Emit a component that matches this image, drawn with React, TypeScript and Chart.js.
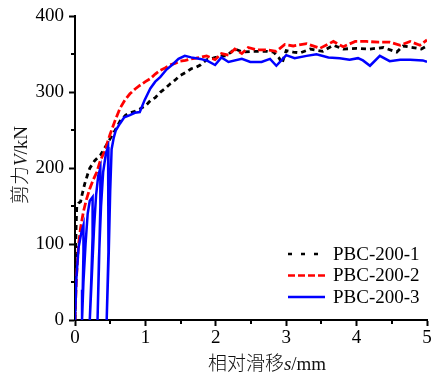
import React, { useEffect, useRef } from "react";
import { Chart, registerables } from "chart.js";

Chart.register(...registerables);

// PBC-200-1 (black, dotted/dashed)
const sBlack = [0, 0.005, 0.015, 0.025, 0.05, 0.08, 0.1, 0.14, 0.18, 0.21, 0.28, 0.36, 0.43, 0.5, 0.57, 0.64, 0.72, 0.78, 0.85, 0.92, 1.0, 1.07, 1.14, 1.21, 1.28, 1.35, 1.42, 1.49, 1.57, 1.65, 1.72, 1.78, 1.87, 1.96, 2.08, 2.15, 2.27, 2.39, 2.53, 2.72, 2.82, 2.9, 2.94, 3.0, 3.1, 3.2, 3.34, 3.52, 3.67, 3.81, 4.0, 4.19, 4.38, 4.57, 4.66, 4.8, 4.92, 5.0];
const vBlack = [0, 60, 120, 150, 154, 156, 165, 180, 192, 200, 210, 217, 228, 239, 250, 262, 270, 273, 275, 278, 282, 289, 293, 300, 305, 311, 316, 322, 326, 331, 333, 336, 343, 345, 348, 348, 357, 353, 354, 354, 353, 345, 338, 355, 353, 352, 357, 354, 362, 357, 358, 357, 359, 353, 361, 359, 357, 361];

// PBC-200-2 (red, dashed)
const sRed = [0, 0.02, 0.05, 0.08, 0.12, 0.16, 0.21, 0.26, 0.31, 0.36, 0.42, 0.5, 0.57, 0.64, 0.71, 0.78, 0.85, 0.92, 1.0, 1.07, 1.14, 1.21, 1.28, 1.35, 1.42, 1.49, 1.57, 1.65, 1.72, 1.78, 1.87, 1.99, 2.08, 2.18, 2.27, 2.37, 2.46, 2.58, 2.72, 2.86, 2.98, 3.1, 3.29, 3.48, 3.67, 3.81, 3.98, 4.14, 4.31, 4.47, 4.62, 4.76, 4.9, 5.0];
const vRed = [0, 55, 99, 122, 143, 158, 173, 185, 195, 210, 222, 245, 263, 279, 290, 298, 304, 309, 314, 318, 324, 329, 332, 336, 338, 341, 342, 344, 345, 346, 348, 343, 351, 349, 357, 351, 359, 356, 356, 354, 363, 361, 364, 358, 367, 360, 367, 367, 366, 366, 362, 367, 362, 369];

// PBC-200-3 (blue, solid) including the early unloading/reloading cycles
const sBlue = [0, 0.02, 0.05, 0.09, 0.12, 0.12, 0.11, 0.1,
  0.12, 0.15, 0.18, 0.21, 0.25, 0.25, 0.23, 0.21,
  0.24, 0.27, 0.3, 0.33, 0.36, 0.36, 0.34, 0.32,
  0.34, 0.37, 0.4, 0.44, 0.47, 0.48, 0.47, 0.45,
  0.48, 0.5, 0.52, 0.55, 0.58, 0.64, 0.7, 0.78, 0.85, 0.92, 0.99, 1.07, 1.14, 1.21, 1.3, 1.39, 1.47, 1.56, 1.65, 1.78, 1.87, 1.99, 2.08, 2.18, 2.37, 2.49, 2.65, 2.77, 2.86, 3.0, 3.12, 3.29, 3.43, 3.6, 3.76, 3.9, 4.02, 4.09, 4.19, 4.33, 4.47, 4.62, 4.76, 4.94, 5.0];
const vBlue = [0, 55, 95, 115, 125, 90, 40, 0,
  50, 100, 140, 157, 162, 110, 50, 0,
  60, 120, 165, 190, 200, 150, 70, 0,
  80, 150, 195, 220, 228, 180, 90, 0,
  90, 170, 225, 240, 250, 259, 267, 270, 273, 274, 290, 305, 314, 320, 330, 337, 344, 348, 346, 344, 342, 336, 346, 340, 344, 340, 340, 344, 335, 349, 345, 348, 350, 346, 345, 343, 345, 342, 335, 348, 341, 343, 343, 342, 340];

const seriesNames = ["PBC-200-1", "PBC-200-2", "PBC-200-3"];
const seriesColors = ["#000000", "#ff0000", "#0000ff"];

const yMin = 0;
const yMax = 400;
const yStep = 100;
const yMinorTicks = [50, 150, 250, 350];
const xMin = 0;
const xMax = 5;
const xStep = 1;
const xMinorTicks = [0.5, 1.5, 2.5, 3.5, 4.5];

const SERIF = '"Liberation Serif", "Times New Roman", serif';
const CJK = '"Noto Sans CJK SC", "Noto Sans", sans-serif';

const xTitleParts = [
  { text: "相对滑移", font: `300 19px ${CJK}` },
  { text: "s", font: `italic 19px ${SERIF}` },
  { text: "/mm", font: `19px ${SERIF}` },
];
const yTitleParts = [
  { text: "剪力", font: `300 19px ${CJK}` },
  { text: "V", font: `italic 19px ${SERIF}` },
  { text: "/kN", font: `19px ${SERIF}` },
];

function toPoints(s: number[], v: number[]) {
  return s.map((x, i) => ({ x, y: v[i] }));
}

function drawRich(ctx: CanvasRenderingContext2D, parts: { text: string; font: string }[], cx: number, baseline: number) {
  let total = 0;
  const widths = parts.map((p) => {
    ctx.font = p.font;
    const w = ctx.measureText(p.text).width;
    total += w;
    return w;
  });
  let x = cx - total / 2;
  ctx.textBaseline = "alphabetic";
  ctx.textAlign = "left";
  parts.forEach((p, i) => {
    ctx.font = p.font;
    ctx.fillText(p.text, x, baseline);
    x += widths[i];
  });
}

export default function App() {
  const ref = useRef<HTMLCanvasElement>(null);

  useEffect(() => {
    if (!ref.current) return;

    const decor = {
      id: "decor",
      afterDraw(chart: any) {
        const ctx: CanvasRenderingContext2D = chart.ctx;
        const xs = chart.scales.x;
        const ys = chart.scales.y;
        const area = chart.chartArea;
        ctx.save();
        ctx.strokeStyle = "#000";
        ctx.lineWidth = 2;
        ctx.setLineDash([]);
        for (const v of yMinorTicks) {
          const py = Math.round(ys.getPixelForValue(v));
          ctx.beginPath();
          ctx.moveTo(area.left - 4, py);
          ctx.lineTo(area.left, py);
          ctx.stroke();
        }
        for (const v of xMinorTicks) {
          const px = Math.round(xs.getPixelForValue(v));
          ctx.beginPath();
          ctx.moveTo(px, area.bottom);
          ctx.lineTo(px, area.bottom + 4);
          ctx.stroke();
        }

        // legend
        const rows = [254, 275.5, 297];
        const dashes = [[4, 9], [7, 3], []];
        seriesNames.forEach((name, i) => {
          ctx.strokeStyle = seriesColors[i];
          ctx.lineWidth = 2.5;
          ctx.setLineDash(dashes[i]);
          ctx.beginPath();
          ctx.moveTo(288, rows[i]);
          ctx.lineTo(325, rows[i]);
          ctx.stroke();
          ctx.setLineDash([]);
          ctx.fillStyle = "#000";
          ctx.font = `19px ${SERIF}`;
          ctx.textAlign = "left";
          ctx.textBaseline = "middle";
          ctx.fillText(name, 333, rows[i] + 1);
        });

        // axis titles
        ctx.fillStyle = "#111";
        drawRich(ctx, xTitleParts, 267, 370);
        ctx.save();
        ctx.translate(27, 165);
        ctx.rotate(-Math.PI / 2);
        drawRich(ctx, yTitleParts, 0, 0);
        ctx.restore();

        ctx.restore();
      },
    };

    const chart = new Chart(ref.current, {
      type: "line",
      data: {
        datasets: [
          {
            label: seriesNames[0],
            data: toPoints(sBlack, vBlack),
            borderColor: seriesColors[0],
            borderWidth: 2.8,
            borderDash: [5, 4],
            pointRadius: 0,
            tension: 0,
            order: 2,
          },
          {
            label: seriesNames[1],
            data: toPoints(sRed, vRed),
            borderColor: seriesColors[1],
            borderWidth: 2.8,
            borderDash: [8, 3],
            pointRadius: 0,
            tension: 0,
            order: 1,
          },
          {
            label: seriesNames[2],
            data: toPoints(sBlue, vBlue),
            borderColor: seriesColors[2],
            borderWidth: 2.5,
            pointRadius: 0,
            tension: 0,
            order: 0,
          },
        ],
      },
      options: {
        animation: false,
        responsive: false,
        maintainAspectRatio: false,
        layout: { padding: { left: 0, right: 7, top: 14, bottom: 0 } },
        plugins: {
          legend: { display: false },
          tooltip: { enabled: false },
          title: { display: false },
        },
        scales: {
          x: {
            type: "linear",
            min: xMin,
            max: xMax,
            ticks: { stepSize: xStep, color: "#000", font: { family: SERIF, size: 19 }, padding: 1, maxRotation: 0 },
            grid: { drawOnChartArea: false, drawTicks: true, tickLength: 6, tickWidth: 2, tickColor: "#000", color: "#000" },
            border: { display: true, color: "#000", width: 2 },
            afterFit: (scale: any) => {
              scale.height = 58;
            },
          },
          y: {
            type: "linear",
            min: yMin,
            max: yMax,
            ticks: { stepSize: yStep, color: "#000", font: { family: SERIF, size: 19 }, padding: 5 },
            grid: { drawOnChartArea: false, drawTicks: true, tickLength: 6, tickWidth: 2, tickColor: "#000", color: "#000" },
            border: { display: true, color: "#000", width: 2 },
            afterFit: (scale: any) => {
              scale.width = 75;
            },
          },
        },
      },
      plugins: [decor],
    } as any);

    return () => chart.destroy();
  }, []);

  return (
    <div style={{ position: "fixed", left: 0, top: 0, width: 434, height: 378, background: "#fff" }}>
      <canvas ref={ref} width={434} height={378} style={{ display: "block", width: 434, height: 378 }} />
    </div>
  );
}
